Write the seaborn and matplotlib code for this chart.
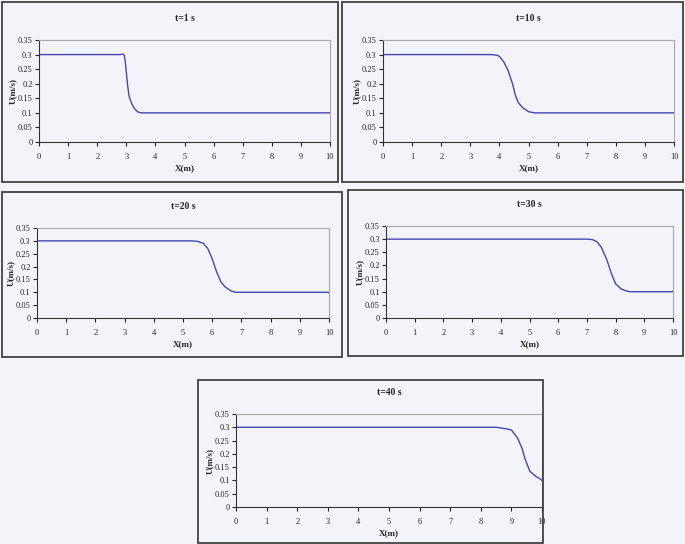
import numpy as np
import pandas as pd
import matplotlib
matplotlib.use("Agg")
import matplotlib.pyplot as plt
import seaborn as sns
from matplotlib.patches import Rectangle

# Velocity profiles U(x), one per time
titles = ["t=1 s", "t=10 s", "t=20 s", "t=30 s", "t=40 s"]

x_t1 = [0, 2.8, 2.88, 2.93, 2.97, 3.0, 3.05, 3.1, 3.2, 3.3, 3.4, 3.5, 10]
u_t1 = [0.3, 0.3, 0.302, 0.298, 0.27, 0.24, 0.19, 0.155, 0.128, 0.112, 0.103, 0.1, 0.1]

x_t10 = [0, 3.7, 3.9, 4.0, 4.15, 4.3, 4.45, 4.55, 4.65, 4.8, 5.0, 5.2, 10]
u_t10 = [0.3, 0.3, 0.298, 0.294, 0.275, 0.245, 0.2, 0.16, 0.135, 0.118, 0.104, 0.1, 0.1]

x_t20 = [0, 5.3, 5.5, 5.7, 5.85, 6.0, 6.15, 6.3, 6.45, 6.65, 6.8, 10]
u_t20 = [0.3, 0.3, 0.298, 0.29, 0.27, 0.23, 0.18, 0.14, 0.12, 0.105, 0.1, 0.1]

x_t30 = [0, 7.0, 7.2, 7.35, 7.5, 7.7, 7.85, 8.0, 8.2, 8.4, 8.5, 10]
u_t30 = [0.3, 0.3, 0.298, 0.29, 0.27, 0.22, 0.17, 0.13, 0.11, 0.102, 0.1, 0.1]

x_t40 = [0, 8.5, 8.8, 9.0, 9.2, 9.35, 9.45, 9.6, 9.8, 9.95, 10]
u_t40 = [0.3, 0.3, 0.295, 0.29, 0.26, 0.22, 0.18, 0.135, 0.115, 0.105, 0.1]

xs = [x_t1, x_t10, x_t20, x_t30, x_t40]
us = [u_t1, u_t10, u_t20, u_t30, u_t40]

W, H = 685, 544
bg = "#f3f4f9"

# pixel layout: panel box (x0, y0, x1, y1) and axes (x0, y0, x1, y1)
boxes = [(2, 2, 338, 182), (342, 2, 683, 182), (2, 192, 342, 357),
         (348, 190, 683, 356), (198, 380, 543, 543)]
axes_px = [(39, 40, 330, 142), (383, 40, 674, 142), (37, 228, 329, 318),
           (386, 226, 673, 318), (236, 414, 542, 507)]

sns.set_style("white")
plt.rcParams['font.family'] = ['Liberation Serif', 'DejaVu Serif']

fig = plt.figure(figsize=(W / 100, H / 100), dpi=100)
fig.patch.set_facecolor(bg)

for i in range(5):
    bx0, by0, bx1, by1 = boxes[i]
    fig.patches.append(Rectangle((bx0 / W, 1 - by1 / H), (bx1 - bx0) / W, (by1 - by0) / H,
                                 transform=fig.transFigure, fill=False,
                                 edgecolor="#333333", linewidth=1.2))
    ax0, ay0, ax1, ay1 = axes_px[i]
    ax = fig.add_axes([ax0 / W, 1 - ay1 / H, (ax1 - ax0) / W, (ay1 - ay0) / H])
    ax.set_facecolor(bg)
    df = pd.DataFrame({"X": xs[i], "U": us[i]})
    sns.lineplot(data=df, x="X", y="U", ax=ax, color="#4646b4", linewidth=1.0)
    ax.set_xlim(0, 10)
    ax.set_ylim(0, 0.35)
    ax.set_xticks(range(11))
    ax.set_yticks([0, 0.05, 0.1, 0.15, 0.2, 0.25, 0.3, 0.35])
    ax.set_yticklabels(["0", "0.05", "0.1", "0.15", "0.2", "0.25", "0.3", "0.35"])
    ax.tick_params(axis="both", labelsize=6, length=3, width=0.8, direction="out",
                   bottom=True, left=True)
    ax.tick_params(axis="x", pad=5)
    ax.tick_params(axis="y", pad=1.5)
    for s in ["top", "right"]:
        ax.spines[s].set_color("#aaaaaa")
        ax.spines[s].set_linewidth(0.8)
    for s in ["left", "bottom"]:
        ax.spines[s].set_color("#333333")
        ax.spines[s].set_linewidth(0.8)
    ax.set_xlabel("X(m)", fontsize=6.5, fontweight="bold", labelpad=2)
    ax.set_ylabel("U(m/s)", fontsize=6.5, fontweight="bold", labelpad=1)
    ax.set_title(titles[i], fontsize=7, fontweight="bold", pad=14)

fig.savefig("out.png", dpi=100, facecolor=bg)
